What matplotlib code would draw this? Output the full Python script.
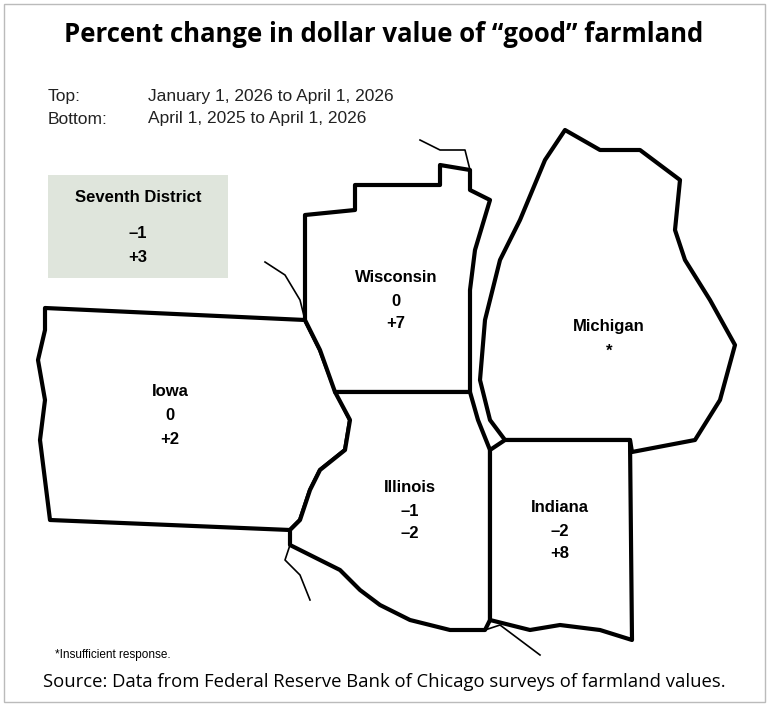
import matplotlib.pyplot as plt
from matplotlib.patches import Polygon, Rectangle

states = ["Iowa", "Wisconsin", "Michigan", "Illinois", "Indiana"]
top_vals = ["0", "0", "*", "\u20131", "\u20132"]
bottom_vals = ["+2", "+7", "", "\u20132", "+8"]
label_xy = [(170, 392), (396, 277), (609, 327), (410, 487), (560, 507)]
district_top, district_bottom = "\u20131", "+3"

# rough state outlines in pixel space
outlines = {
    "Iowa": [(45, 308), (305, 320), (320, 350), (335, 390), (350, 420), (345, 450),
             (320, 470), (310, 490), (300, 520), (290, 530), (50, 520), (45, 480),
             (40, 440), (45, 400), (38, 360), (45, 330)],
    "Wisconsin": [(305, 320), (305, 215), (355, 210), (355, 185), (440, 185), (440, 165),
                  (470, 170), (470, 190), (490, 200), (475, 250), (470, 290), (470, 392),
                  (335, 392), (320, 350)],
    "Illinois": [(335, 392), (470, 392), (478, 420), (490, 450), (490, 620), (485, 630),
                 (450, 630), (410, 620), (380, 605), (360, 590), (340, 570), (320, 560),
                 (290, 545), (290, 530), (300, 520), (310, 490), (320, 470), (345, 450),
                 (350, 420)],
    "Indiana": [(490, 450), (505, 440), (630, 440), (632, 640), (600, 630), (560, 625),
                (530, 630), (490, 620)],
    "Michigan": [(505, 440), (490, 420), (480, 380), (485, 320), (500, 260), (520, 220),
                 (545, 160), (565, 130), (600, 150), (640, 150), (680, 180), (675, 230),
                 (685, 260), (710, 300), (735, 345), (720, 400), (695, 440), (632, 452),
                 (630, 440)],
}
rivers = [
    [(265, 262), (285, 275), (300, 300), (305, 320)],
    [(420, 140), (440, 150), (465, 150), (470, 170)],
    [(290, 545), (285, 560), (300, 575), (310, 600)],
    [(485, 630), (500, 625), (520, 640), (540, 655)],
]

fig = plt.figure(figsize=(7.69, 7.07), dpi=100)
ax = fig.add_axes([0, 0, 1, 1])
ax.set_xlim(0, 769)
ax.set_ylim(707, 0)
ax.axis("off")

lab = dict(family="Liberation Sans", fontweight="bold", fontsize=12, ha="center", va="center")

ax.add_patch(Rectangle((4, 4), 761, 698, fill=False, ec="#bbbbbb", lw=1))
ax.text(384, 35, "Percent change in dollar value of \u201cgood\u201d farmland",
        ha="center", va="center", fontsize=18.5, fontweight="bold", family="Open Sans")

for y, a, b in [(97, "Top:", "January 1, 2026 to April 1, 2026"),
                (119, "Bottom:", "April 1, 2025 to April 1, 2026")]:
    ax.text(48, y, a, fontsize=12.5, va="center", color="#222", family="Liberation Sans")
    ax.text(148, y, b, fontsize=12.5, va="center", color="#222", family="Liberation Sans")

ax.add_patch(Rectangle((48, 175), 180, 103, fc="#dfe5dc", ec="none"))
ax.text(138, 198, "Seventh District", **lab)
ax.text(138, 233, district_top, **lab)
ax.text(138, 257, district_bottom, **lab)

for name in states:
    ax.add_patch(Polygon(outlines[name], closed=True, fc="white", ec="black", lw=3, joinstyle="round"))
for r in rivers:
    xs, ys = zip(*r)
    ax.plot(xs, ys, color="black", lw=1.2)

for name, (x, y), t, b in zip(states, label_xy, top_vals, bottom_vals):
    ax.text(x, y, name, **lab)
    ax.text(x, y + 24, t, **lab)
    if b:
        ax.text(x, y + 47, b, **lab)

ax.text(55, 655, "*Insufficient response.", fontsize=8.5, va="center", family="Liberation Sans")
ax.text(384, 682, "Source: Data from Federal Reserve Bank of Chicago surveys of farmland values.",
        ha="center", va="center", fontsize=13.3, family="Open Sans")

fig.savefig("out.png", dpi=100)
